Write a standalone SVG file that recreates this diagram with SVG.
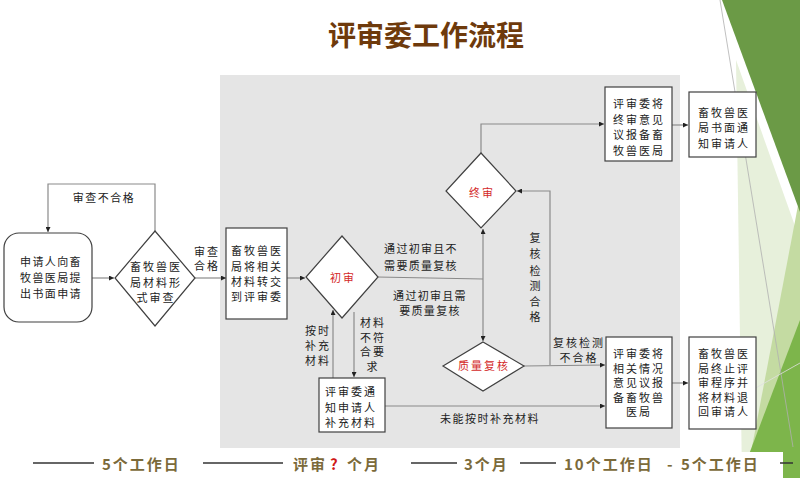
<svg xmlns="http://www.w3.org/2000/svg" width="800" height="478" viewBox="0 0 800 478">
<defs>
<marker id="ah" viewBox="0 0 10 10" refX="10" refY="5" markerWidth="5" markerHeight="5" orient="auto" markerUnits="userSpaceOnUse">
<path d="M0,0 L10,5 L0,10 z" fill="#222"/>
</marker>
<style>
.bx{fill:#fff;stroke:#404040;stroke-width:1.2}
.t{font-family:"Noto Sans CJK SC","Liberation Sans",sans-serif;font-size:11px;fill:#222;text-anchor:middle;letter-spacing:2px}
.r{fill:#d42a2a;letter-spacing:2px}
.c{fill:none;stroke:#8a8a8a;stroke-width:1.2}
.ca{fill:none;stroke:#8a8a8a;stroke-width:1.2;marker-end:url(#ah)}
.f{font-family:"Noto Sans CJK SC",sans-serif;font-size:15px;font-weight:bold;fill:#7b6a3a;letter-spacing:2px}
.fl{stroke:#333;stroke-width:1.5}
</style>
</defs>
<rect width="800" height="478" fill="#fff"/>
<g id="decor">
<polygon points="736,60 800,240 800,478 742,478" fill="#e7f0db"/>
<polygon points="800,195 752,447 800,447" fill="#c4dba2"/>
<polygon points="800,320 740,478 800,478" fill="#7db54b"/>
<polygon points="722,0 800,0 800,212" fill="#6b9a46"/>
<line x1="720" y1="0" x2="793" y2="447" stroke="#b0b0b0" stroke-width="0.8"/>
<line x1="800" y1="363" x2="690" y2="425" stroke="#e0e0e0" stroke-width="0.8"/>
</g>
<rect x="220" y="75" width="460" height="373" fill="#e5e5e5"/>
<text x="426" y="46" style="font-family:'Noto Sans CJK SC',sans-serif;font-size:28px;font-weight:bold;fill:#6e3a0c" text-anchor="middle">评审委工作流程</text>

<g id="connectors">
<polyline class="ca" points="155,231 155,184 48,184 48,232"/>
<line class="ca" x1="92" y1="278" x2="114" y2="278"/>
<line class="ca" x1="195" y1="278" x2="226" y2="278"/>
<line class="ca" x1="287" y1="278" x2="305" y2="278"/>
<polyline class="c" points="377,277 483,279"/>
<line class="ca" x1="483" y1="279" x2="483" y2="229"/>
<line class="ca" x1="483" y1="279" x2="483" y2="341"/>
<polyline class="ca" points="481,153 481,124 604,124"/>
<line class="ca" x1="672" y1="125" x2="688" y2="125"/>
<line class="ca" x1="524" y1="366" x2="605" y2="365"/>
<polyline class="ca" points="550,365 550,191 517,191"/>
<line class="ca" x1="333" y1="378" x2="333" y2="310"/>
<line class="ca" x1="354" y1="312" x2="354" y2="377"/>
<line class="ca" x1="385" y1="406" x2="605" y2="406"/>
<line class="ca" x1="672" y1="383" x2="688" y2="383"/>
</g>

<g id="labels" class="t">
<text x="104" y="202" style="letter-spacing:1.5px">审查不合格</text>
<text x="207" y="255.5">审查</text>
<text x="207" y="270">合格</text>
<text x="421" y="253" style="letter-spacing:1.3px">通过初审且不</text>
<text x="421" y="269.5" style="letter-spacing:1.3px">需要质量复核</text>
<text x="430" y="300" style="letter-spacing:1.3px">通过初审且需</text>
<text x="430" y="315" style="letter-spacing:1.3px">要质量复核</text>
<text x="536" y="242">复</text>
<text x="536" y="258">核</text>
<text x="536" y="274.5">检</text>
<text x="536" y="290">测</text>
<text x="536" y="305.5">合</text>
<text x="536" y="320.5">格</text>
<text x="579" y="346.5">复核检测</text>
<text x="579" y="361.5">不合格</text>
<text x="318" y="334.5">按时</text>
<text x="318" y="349.5">补充</text>
<text x="318" y="364.5">材料</text>
<text x="373" y="327">材料</text>
<text x="373" y="341.5">不符</text>
<text x="373" y="356">合要</text>
<text x="373" y="371">求</text>
<text x="490" y="422.5" style="letter-spacing:1.5px">未能按时补充材料</text>
</g>

<g id="n1">
<rect class="bx" x="4" y="233" width="88" height="89" rx="15"/>
<text class="t" x="51" y="266" style="letter-spacing:1.4px">申请人向畜</text>
<text class="t" x="51" y="282" style="letter-spacing:1.4px">牧兽医局提</text>
<text class="t" x="51" y="297.5" style="letter-spacing:1.4px">出书面申请</text>
</g>
<g id="n2">
<polygon class="bx" points="155,231 195,278 155,326 115,278"/>
<text class="t" x="156" y="271">畜牧兽医</text>
<text class="t" x="156" y="287">局材料形</text>
<text class="t" x="156" y="302">式审查</text>
</g>
<g id="n3">
<rect class="bx" x="226" y="228" width="61" height="91"/>
<text class="t" x="257" y="255">畜牧兽医</text>
<text class="t" x="257" y="270.5">局将相关</text>
<text class="t" x="257" y="285.5">材料转交</text>
<text class="t" x="257" y="300.5">到评审委</text>
</g>
<g id="n4">
<polygon class="bx" points="342,236 378,277 342,318 306,277"/>
<text class="t r" x="343" y="281.5">初审</text>
</g>
<g id="n5">
<polygon class="bx" points="481,153 516,191 481,228 446,191"/>
<text class="t r" x="482" y="196.5">终审</text>
</g>
<g id="n6">
<polygon class="bx" points="483,342 524,366 483,391 443,366"/>
<text class="t r" x="484" y="370">质量复核</text>
</g>
<g id="n7">
<rect class="bx" x="319" y="378" width="66" height="54"/>
<text class="t" x="351" y="395.5">评审委通</text>
<text class="t" x="351" y="411.5">知申请人</text>
<text class="t" x="351" y="427">补充材料</text>
</g>
<g id="n8">
<rect class="bx" x="605" y="87" width="67" height="74"/>
<text class="t" x="639" y="107.5">评审委将</text>
<text class="t" x="639" y="123.5">终审意见</text>
<text class="t" x="639" y="139">议报备畜</text>
<text class="t" x="639" y="154.5">牧兽医局</text>
</g>
<g id="n9">
<rect class="bx" x="689" y="92" width="67" height="65"/>
<text class="t" x="724" y="116.5">畜牧兽医</text>
<text class="t" x="724" y="132">局书面通</text>
<text class="t" x="724" y="147.5">知审请人</text>
</g>
<g id="n10">
<rect class="bx" x="606" y="337" width="66" height="91"/>
<text class="t" x="639" y="358">评审委将</text>
<text class="t" x="639" y="372.5">相关情况</text>
<text class="t" x="639" y="387">意见议报</text>
<text class="t" x="639" y="401.5">备畜牧兽</text>
<text class="t" x="639" y="416">医局</text>
</g>
<g id="n11">
<rect class="bx" x="689" y="337" width="67" height="92"/>
<text class="t" x="724" y="358">畜牧兽医</text>
<text class="t" x="724" y="372.5">局终止评</text>
<text class="t" x="724" y="387">审程序并</text>
<text class="t" x="724" y="401.5">将材料退</text>
<text class="t" x="724" y="416">回审请人</text>
</g>

<g id="footer">
<rect x="0" y="452" width="783" height="26" fill="#fff"/>
<line class="fl" x1="33" y1="463" x2="94" y2="463"/>
<text class="f" x="102" y="470">5个工作日</text>
<line class="fl" x1="203" y1="463" x2="283" y2="463"/>
<text class="f" x="293" y="470">评审</text>
<text class="f" x="330" y="470" style="fill:#d01818">?</text>
<text class="f" x="347" y="470">个月</text>
<line class="fl" x1="411" y1="463" x2="457" y2="463"/>
<text class="f" x="464" y="470">3个月</text>
<line class="fl" x1="520" y1="463" x2="556" y2="463"/>
<text class="f" x="564" y="470">10个工作日</text>
<text class="f" x="667" y="470">-</text>
<text class="f" x="681" y="470">5个工作日</text>
<line class="fl" x1="780" y1="463" x2="793" y2="463"/>
</g>
</svg>
